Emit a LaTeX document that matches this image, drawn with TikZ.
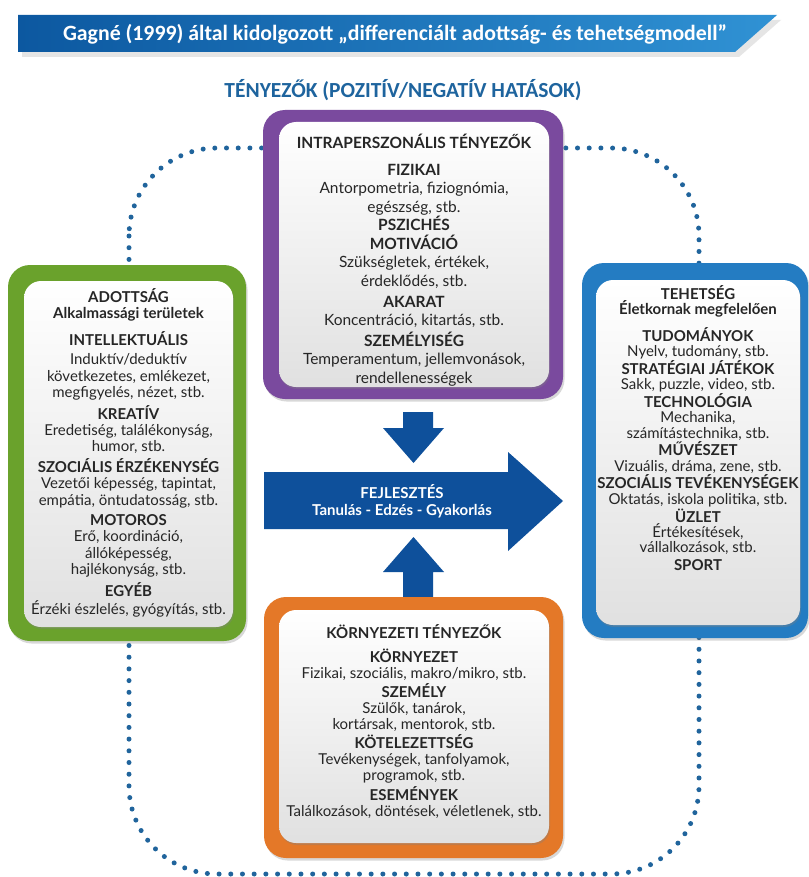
\documentclass[tikz,border=0pt]{standalone}
\usepackage{fontspec}
\setmainfont{Lato}
\newfontfamily\titlefont{Carlito}
\usetikzlibrary{shadows}
\definecolor{lila}{RGB}{122,74,158}
\definecolor{zold}{RGB}{106,162,44}
\definecolor{kek}{RGB}{36,124,194}
\definecolor{narancs}{RGB}{228,120,40}
\definecolor{nyilkek}{RGB}{14,80,155}
\definecolor{cimbal}{RGB}{12,88,160}
\definecolor{cimjobb}{RGB}{48,146,212}
\definecolor{alcim}{RGB}{30,100,158}
\definecolor{pontkek}{RGB}{32,100,156}
\newcommand\szorosan{\lineskiplimit=-20pt\relax}

\begin{document}
\begin{tikzpicture}[x=1pt,y=-1pt]
  \tikzstyle{keret}=[rounded corners=22pt, drop shadow={opacity=0.3, shadow xshift=1.5pt, shadow yshift=-2.5pt}]
  \tikzstyle{belso}=[rounded corners=17pt, top color=white, bottom color=black!12, drop shadow={opacity=0.35, shadow xshift=1pt, shadow yshift=-2pt}]
  \tikzstyle{szoveg}=[inner sep=0pt, align=center, anchor=north, text=black!85]
  \tikzstyle{nyil}=[fill=nyilkek]
  \tikzstyle{pontsor}=[draw=pontkek, line width=5pt, line cap=round, dash pattern=on 0pt off 11.7pt, rounded corners=88pt]

  \fill[white] (0,0) rectangle (808,877);
  \useasboundingbox (0,0) rectangle (808,877);

  % cimsav
  \path[left color=cimbal, right color=cimjobb, drop shadow={opacity=0.2, shadow xshift=4pt, shadow yshift=-5pt}]
    (18,15) -- (777,15) -- (735,52) -- (18,52) -- cycle;
  \node[text=white, font=\titlefont\bfseries\fontsize{21.8}{24}\selectfont] (cim) at (395,34)
    {Gagné (1999) által kidolgozott „differenciált adottság- és tehetségmodell”};
  \node[text=alcim, font=\titlefont\bfseries\fontsize{21.5}{24}\selectfont] (alcim) at (403,90)
    {TÉNYEZŐK (POZITÍV/NEGATÍV HATÁSOK)};

  % pontozott keret
  \draw[pontsor] (129,148) rectangle (699,874);

  % nyilak
  \fill[nyil] (403,412) -- (433,412) -- (433,428) -- (444,428) -- (413.5,463) -- (383,428) -- (403,428) -- cycle;
  \fill[nyil] (403,598) -- (433,598) -- (433,572) -- (444,572) -- (413.5,537) -- (383,572) -- (403,572) -- cycle;
  \fill[nyil] (264,472) -- (508,472) -- (508,452) -- (563,501) -- (508,551) -- (508,529) -- (264,529) -- cycle;
  \node[text=white, align=center, font=\bfseries\fontsize{15}{17}\selectfont] (fej) at (402,501)
    {FEJLESZTÉS\\Tanulás - Edzés - Gyakorlás};

  % dobozok
  \node[keret, fill=lila, minimum width=300pt, minimum height=289pt] (intra) at (413,254.5) {};
  \node[belso, minimum width=270pt, minimum height=265pt] (intrab) at (414,254.5) {};
  \node[keret, fill=zold, minimum width=238pt, minimum height=376pt] (adott) at (127,453) {};
  \node[belso, minimum width=209pt, minimum height=346pt] (adottb) at (128.5,454) {};
  \node[keret, fill=kek, minimum width=226pt, minimum height=375pt] (tehet) at (695,450.5) {};
  \node[belso, minimum width=204pt, minimum height=345pt] (tehetb) at (698,452.5) {};
  \node[keret, fill=narancs, minimum width=299pt, minimum height=261pt] (korny) at (413.5,727.5) {};
  \node[belso, minimum width=270pt, minimum height=233pt] (kornyb) at (414,726.5) {};

  % szovegek
  \node[szoveg, font=\fontsize{15.5}{18.5}\selectfont] (intrat) at (414,134)
    {\textbf{INTRAPERSZONÁLIS TÉNYEZŐK}\\[8pt]
     \textbf{FIZIKAI}\\ Antorpometria, fiziognómia,\\ egészség, stb.\\
     \textbf{PSZICHÉS}\\ \textbf{MOTIVÁCIÓ}\\ Szükségletek, értékek,\\ érdeklődés, stb.\\[2.5pt]
     \textbf{AKARAT}\\ Koncentráció, kitartás, stb.\\[2pt]
     \textbf{SZEMÉLYISÉG}\\ Temperamentum, jellemvonások,\\ rendellenességek};
  \node[szoveg, font=\fontsize{15}{16.4}\selectfont] (adottt) at (128.5,288)
    {\textbf{ADOTTSÁG}\\ \textbf{Alkalmassági területek}\\[9pt]
     \textbf{INTELLEKTUÁLIS}\\[3pt] Induktív/deduktív\\ következetes, emlékezet,\\ megfigyelés, nézet, stb.\\[4pt]
     \textbf{KREATÍV}\\ Eredetiség, találékonyság,\\ humor, stb.\\[4pt]
     \textbf{SZOCIÁLIS ÉRZÉKENYSÉG}\\ Vezetői képesség, tapintat,\\ empátia, öntudatosság, stb.\\[4pt]
     \textbf{MOTOROS}\\ Erő, koordináció,\\ állóképesség,\\ hajlékonyság, stb.\\[4pt]
     \textbf{EGYÉB}\\[2pt] Érzéki észlelés, gyógyítás, stb.};
  \node[szoveg, font=\fontsize{15}{15.3}\selectfont\szorosan] (teheti) at (698,285)
    {\textbf{TEHETSÉG}\\ \textbf{Életkornak megfelelően}\\[11.5pt]
     \textbf{TUDOMÁNYOK}\\ Nyelv, tudomány, stb.\\[2.5pt]
     \textbf{STRATÉGIAI JÁTÉKOK}\\ Sakk, puzzle, video, stb.\\[2.5pt]
     \textbf{TECHNOLÓGIA}\\ Mechanika,\\ számítástechnika, stb.\\[2.5pt]
     \textbf{MŰVÉSZET}\\ Vizuális, dráma, zene, stb.\\[2.5pt]
     \textbf{SZOCIÁLIS TEVÉKENYSÉGEK}\\ Oktatás, iskola politika, stb.\\[2.5pt]
     \textbf{ÜZLET}\\ Értékesítések,\\ vállalkozások, stb.\\[2.5pt]
     \textbf{SPORT}};
  \node[szoveg, font=\fontsize{15}{16}\selectfont] (kornyt) at (414,624)
    {\textbf{KÖRNYEZETI TÉNYEZŐK}\\[8pt]
     \textbf{KÖRNYEZET}\\ Fizikai, szociális, makro/mikro, stb.\\[3pt]
     \textbf{SZEMÉLY}\\ Szülők, tanárok,\\ kortársak, mentorok, stb.\\[3pt]
     \textbf{KÖTELEZETTSÉG}\\ Tevékenységek, tanfolyamok,\\ programok, stb.\\[3pt]
     \textbf{ESEMÉNYEK}\\ Találkozások, döntések, véletlenek, stb.};
\end{tikzpicture}
\end{document}
